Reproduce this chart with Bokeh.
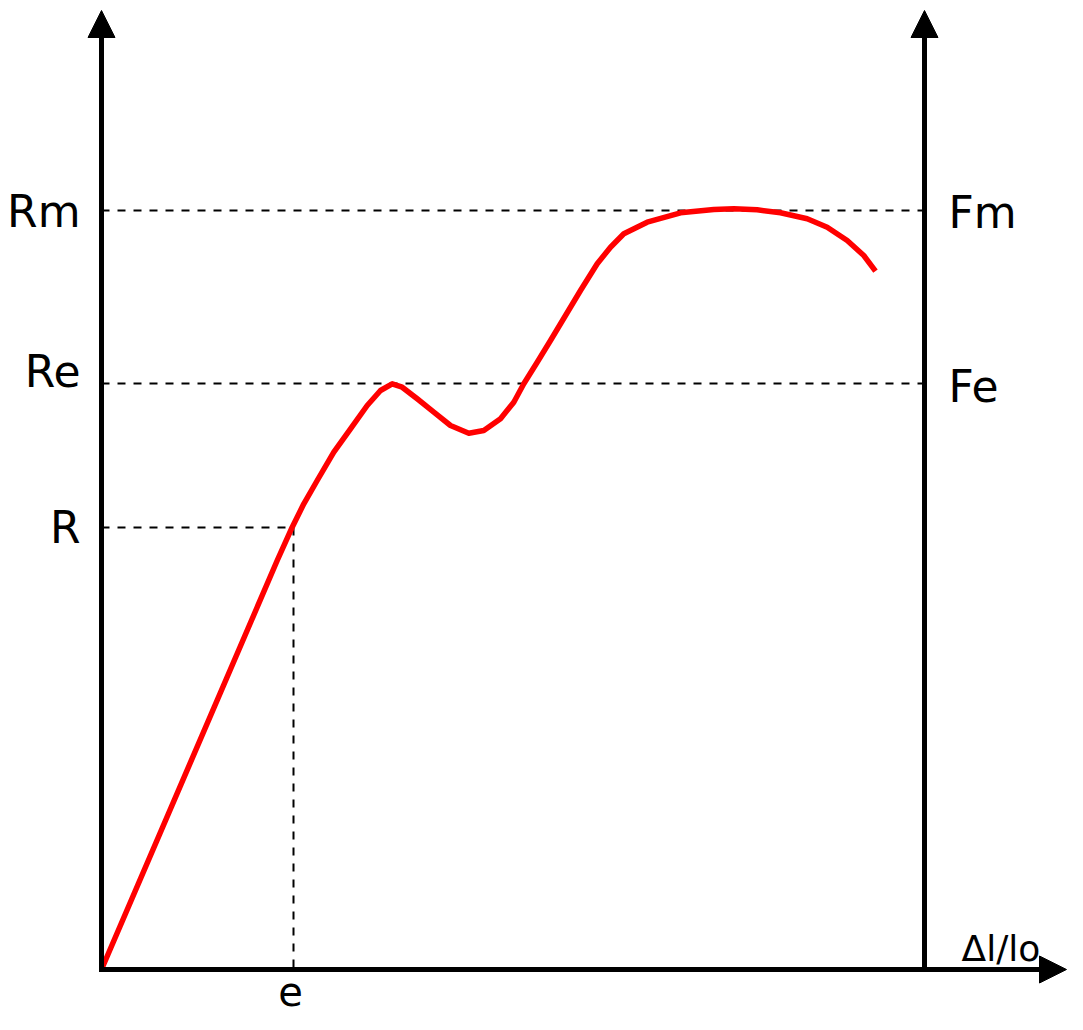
from bokeh.plotting import figure
from bokeh.models import Range1d, Arrow, NormalHead
from bokeh.core.properties import value
from bokeh.embed import file_html
from bokeh.resources import INLINE

# Curve (strain, stress) in chart units; origin at the axes' corner
strain = [0, 175.7, 190.7, 202.3, 215.7, 232.3, 249, 265.7, 279, 290.7, 300.7,
          315.7, 332.3, 349, 367.3, 382.3, 399, 412.3, 422.3, 435.7, 449, 464,
          479, 495.7, 509, 522.3, 545.7, 579, 612.3, 632.3, 655.7, 679, 705.7,
          725.7, 745.7, 762.3, 774]
stress = [0, 409, 442.3, 465.7, 489, 517.3, 540.7, 564, 579, 585.7, 582.3,
          570.7, 557.3, 544, 536.3, 539, 550.7, 567.3, 585.7, 607.3, 629, 654,
          679, 705.7, 722.3, 735.7, 747.3, 756.7, 760, 760.7, 759.7, 756.7, 750.7,
          742.3, 729, 714, 698.3]

# Reference levels
level_names_left = ["Rm", "Re", "R"]
level_names_right = ["Fm", "Fe"]
level_Rm = 759
level_Re = 586
level_R = 442
strain_e = 192
right_axis_x = 823
axis_top = 959
x_axis_end = 965
x_label = "Δl/lo"
e_label = "e"

W, H = 1067, 1014
p = figure(width=W, height=H, output_backend="svg", toolbar_location=None,
           x_range=Range1d(-101, 966), y_range=Range1d(-45, 969),
           min_border=0, x_axis_type=None, y_axis_type=None)
p.grid.visible = False
p.outline_line_color = None
p.background_fill_color = "white"
p.border_fill_color = "white"

dash = "8 8"
# dashed guide lines
p.line([0, right_axis_x], [level_Rm, level_Rm], line_color="black", line_width=2, line_dash=dash)
p.line([0, right_axis_x], [level_Re, level_Re], line_color="black", line_width=2, line_dash=dash)
p.line([0, strain_e], [level_R, level_R], line_color="black", line_width=2, line_dash=dash)
p.line([strain_e, strain_e], [level_R, 0], line_color="black", line_width=2, line_dash=dash)

# curve
p.line(strain, stress, line_color="#ff0000", line_width=5.5, line_join="round")

# axes with arrows
for xs, ys, xe, ye in [(0, -2.5, 0, axis_top),
                       (right_axis_x, -2.5, right_axis_x, axis_top),
                       (-2.5, 0, x_axis_end, 0)]:
    p.add_layout(Arrow(x_start=xs, y_start=ys, x_end=xe, y_end=ye,
                       line_color="black", line_width=5,
                       end=NormalHead(size=27, fill_color="black", line_color="black", line_width=1)))

font = value("DejaVu Sans")
p.text(x=[-21, -21, -21], y=[758, 598, 442], text=level_names_left,
       text_font=font, text_font_size="44px", text_align="right",
       text_baseline="middle", text_color="black")
p.text(x=[847, 847], y=[757, 583], text=level_names_right,
       text_font=font, text_font_size="44px", text_align="left",
       text_baseline="middle", text_color="black")
p.text(x=[189], y=[-21], text=[e_label], text_font=font, text_font_size="40px",
       text_align="center", text_baseline="middle", text_color="black")
p.text(x=[860], y=[21], text=[x_label], text_font=font, text_font_size="36px",
       text_align="left", text_baseline="middle", text_color="black")

open("out.html", "w").write(file_html(p, INLINE))
